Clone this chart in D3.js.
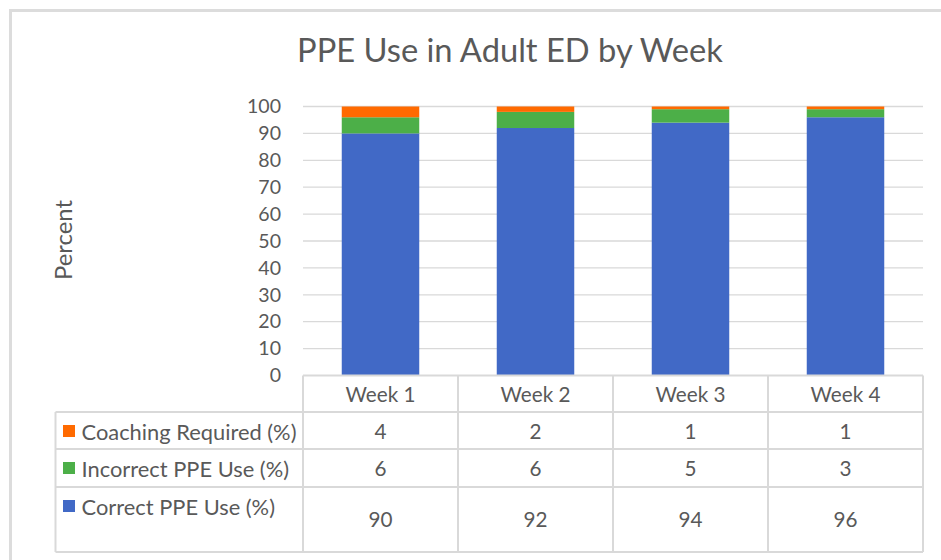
<!DOCTYPE html>
<html>
<head>
<meta charset="utf-8">
<script src="https://cdn.jsdelivr.net/npm/d3@7"></script>
<style>
  body { margin: 0; background: #fff; }
  text { fill: #595959; }
</style>
</head>
<body>
<script>
// data
const weeks = ["Week 1", "Week 2", "Week 3", "Week 4"];
const correctUse = [90, 92, 94, 96];
const incorrectUse = [6, 6, 5, 3];
const coachingRequired = [4, 2, 1, 1];
const seriesNames = ["Correct PPE Use (%)", "Incorrect PPE Use (%)", "Coaching Required (%)"];
const yTicks = [0, 10, 20, 30, 40, 50, 60, 70, 80, 90, 100];

const width = 941, height = 560;
const FONT = "Lato, 'Open Sans', sans-serif";
const grid = "#d9d9d9";

const svg = d3.select("body").append("svg")
    .attr("width", width)
    .attr("height", height);

// fit a font size so a sample string takes the measured width
function fitSize(str, w) {
  const t = svg.append("text").attr("font-family", FONT).attr("font-size", 100).text(str);
  const len = t.node().getComputedTextLength();
  t.remove();
  return 100 * w / len;
}

// outer chart border (runs off the right / bottom of the picture)
svg.append("rect")
    .attr("x", 10.5).attr("y", 10.5)
    .attr("width", 1000).attr("height", 600)
    .attr("fill", "none")
    .attr("stroke", "#dcdcdc")
    .attr("stroke-width", 3);

const rows = weeks.map((w, i) => ({
  week: w,
  correct: correctUse[i],
  incorrect: incorrectUse[i],
  coaching: coachingRequired[i]
}));
const keys = ["correct", "incorrect", "coaching"];
const color = d3.scaleOrdinal().domain(keys).range(["#4169c6", "#4caf48", "#ff6a00"]);

const x = d3.scaleBand().domain(weeks).range([303, 923]).paddingInner(0).paddingOuter(0);
const y = d3.scaleLinear().domain([0, 100]).range([375.5, 106.5]);

// title
svg.append("text")
    .attr("x", 510).attr("y", 61.5)
    .attr("text-anchor", "middle")
    .attr("font-family", FONT)
    .attr("font-size", fitSize("PPE Use in Adult ED by Week", 426))
    .text("PPE Use in Adult ED by Week");

// gridlines
svg.append("g")
  .selectAll("line")
  .data(yTicks.filter(d => d > 0))
  .join("line")
    .attr("x1", x.range()[0]).attr("x2", x.range()[1])
    .attr("y1", d => y(d)).attr("y2", d => y(d))
    .attr("stroke", grid).attr("stroke-width", 1.3);

// y axis labels
const tickSize = fitSize("100", 34);
const yAxis = d3.axisLeft(y).tickValues(yTicks).tickSize(0).tickPadding(0);
svg.append("g")
    .attr("transform", "translate(281,0)")
    .call(yAxis)
    .call(g => g.select(".domain").remove())
    .call(g => g.selectAll("text")
        .attr("font-family", FONT)
        .attr("font-size", tickSize)
        .attr("fill", "#595959"));

svg.append("text")
    .attr("transform", "translate(62,240) rotate(-90)")
    .attr("text-anchor", "middle")
    .attr("dominant-baseline", "central")
    .attr("font-family", FONT)
    .attr("font-size", fitSize("Percent", 80))
    .text("Percent");

// stacked bars
const stacked = d3.stack().keys(keys)(rows);
const barW = x.bandwidth() * 0.5;
svg.append("g")
  .selectAll("g")
  .data(stacked)
  .join("g")
    .attr("fill", d => color(d.key))
  .selectAll("rect")
  .data(d => d)
  .join("rect")
    .attr("x", d => x(d.data.week) + (x.bandwidth() - barW) / 2)
    .attr("width", barW)
    .attr("y", d => y(d[1]))
    .attr("height", d => y(d[0]) - y(d[1]));

// data table
const tableTop = 375.5, headerBottom = 412, tableLeft = 55.5, tableRight = 923;
const rowEdges = [412, 449, 487, 552];
const tableRows = [
  {key: "coaching", name: seriesNames[2], values: coachingRequired},
  {key: "incorrect", name: seriesNames[1], values: incorrectUse},
  {key: "correct", name: seriesNames[0], values: correctUse}
];

const tg = svg.append("g").attr("stroke", grid).attr("stroke-width", 2);
// header top
tg.append("line").attr("x1", 303).attr("x2", tableRight).attr("y1", tableTop).attr("y2", tableTop);
// row lines
tg.selectAll(".hl").data(rowEdges).join("line")
    .attr("x1", tableLeft).attr("x2", tableRight)
    .attr("y1", d => d).attr("y2", d => d);
// verticals
tg.append("line").attr("x1", tableLeft).attr("x2", tableLeft).attr("y1", headerBottom).attr("y2", 552);
tg.selectAll(".vl").data(weeks.map(w => x(w)).concat([tableRight])).join("line")
    .attr("x1", d => d).attr("x2", d => d)
    .attr("y1", tableTop).attr("y2", 552);

const cellSize = fitSize("Week 1", 70);
svg.append("g").selectAll("text").data(weeks).join("text")
    .attr("x", d => x(d) + x.bandwidth() / 2)
    .attr("y", 393.5)
    .attr("text-anchor", "middle")
    .attr("dominant-baseline", "central")
    .attr("font-family", FONT)
    .attr("font-size", cellSize)
    .text(d => d);

const legendSize = fitSize("Coaching Required (%)", 215);
const valueSize = fitSize("90", 24);
const labelY = [431, 468, 506];
const valueY = [430.5, 468, 518.5];

tableRows.forEach((r, i) => {
  svg.append("rect")
      .attr("x", 63).attr("y", labelY[i] - 6)
      .attr("width", 12).attr("height", 12)
      .attr("fill", color(r.key));
  svg.append("text")
      .attr("x", 81.5).attr("y", labelY[i])
      .attr("dominant-baseline", "central")
      .attr("font-family", FONT)
      .attr("font-size", legendSize)
      .text(r.name);
  svg.append("g").selectAll("text").data(r.values).join("text")
      .attr("x", (d, j) => x(weeks[j]) + x.bandwidth() / 2)
      .attr("y", valueY[i])
      .attr("text-anchor", "middle")
      .attr("dominant-baseline", "central")
      .attr("font-family", FONT)
      .attr("font-size", valueSize)
      .text(d => d);
});
</script>
</body>
</html>
